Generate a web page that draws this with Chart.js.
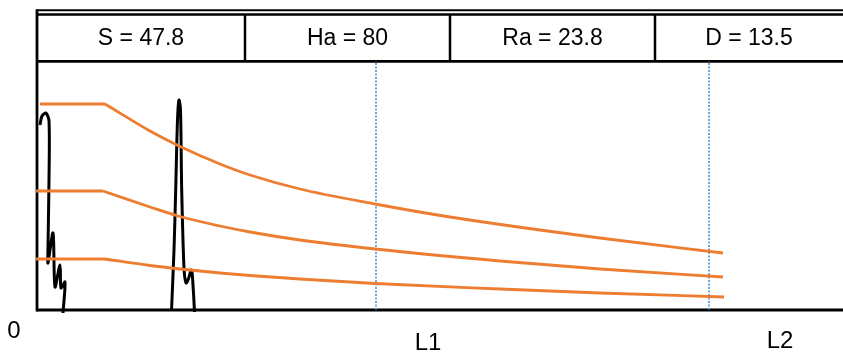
<!DOCTYPE html>
<html>
<head>
<meta charset="utf-8">
<script src="https://cdn.jsdelivr.net/npm/chart.js@4.4.1/dist/chart.umd.min.js"></script>
<style>
  html, body { margin: 0; padding: 0; background: #fff; }
  #box { width: 843px; height: 354px; }
</style>
</head>
<body>
<div id="box"><canvas id="grafico"></canvas></div>
<script>
// posição (x) e nível (y)
const cabecalho = ['S = 47.8', 'Ha = 80', 'Ra = 23.8', 'D = 13.5'];
const rotulosEixo = ['0', 'L1', 'L2'];
const posRotulos = [[-23, -21], [391, -33], [743, -31]];

const picoEsqX = [3, 5, 9, 12, 12, 11, 11, 16, 18, 23, 24, 28, 26];
const picoEsqY = [185, 194, 197, 189, 130, 63, 47, 77, 23, 45, 22, 28, -3];

const picoMeioX = [134.5, 137, 138.7, 140.5, 142, 143.5, 144.7, 147, 149, 151, 154.5, 156.3, 157.5];
const picoMeioY = [-1, 60, 120, 190, 210, 200, 120, 42, 27, 30, 40, 20, -2];

const planoX = [[3, 68], [-1, 66], [-1, 68]];
const planoY = [206, 119, 51];

const curvaX = [
  [68, 113, 142, 183, 213, 263, 338, 413, 563, 686],
  [66, 113, 141, 183, 213, 263, 338, 463, 563, 686],
  [68, 113, 143, 183, 213, 263, 338, 463, 563, 687]
];
const curvaY = [
  [206, 179, 164, 146, 135, 121, 106, 93, 72, 57],
  [119, 103, 94, 84, 78, 70, 61, 49, 41, 33],
  [51, 44.5, 41, 37, 34.5, 31, 26.5, 21, 17, 13]
];

const marcasX = [339, 672];
const topoMarcas = 249;

const laranja = '#ED7D31';

const pontos = (xs, ys) => xs.map((x, i) => ({ x, y: ys[i] }));

const datasets = [];
curvaX.forEach((xs, i) => {
  datasets.push({ data: pontos(planoX[i], [planoY[i], planoY[i]]), borderColor: laranja, borderWidth: 2.8, tension: 0 });
  datasets.push({ data: pontos(xs, curvaY[i]), borderColor: laranja, borderWidth: 2.8, cubicInterpolationMode: 'monotone' });
});
marcasX.forEach(x => {
  datasets.push({ data: pontos([x, x], [0, topoMarcas]), borderColor: '#2f7fd0', borderWidth: 1.4, borderDash: [2, 1.5] });
});
datasets.push({ data: pontos(picoEsqX, picoEsqY), borderColor: '#000', borderWidth: 3, tension: 0.3 });
datasets.push({ data: pontos(picoMeioX, picoMeioY), borderColor: '#000', borderWidth: 3, tension: 0.3 });

const moldura = {
  id: 'moldura',
  beforeDatasetsDraw(chart) {
    const { ctx, chartArea: a, scales: { x, y } } = chart;
    const yBase = y.getPixelForValue(topoMarcas);
    ctx.save();
    ctx.strokeStyle = '#000';
    ctx.lineCap = 'butt';
    const linha = (x1, y1, x2, y2, w) => {
      ctx.lineWidth = w;
      ctx.beginPath(); ctx.moveTo(x1, y1); ctx.lineTo(x2, y2); ctx.stroke();
    };
    // cabeçalho
    linha(a.left, a.top + 0.3, a.right, a.top + 0.3, 2);
    linha(a.left, a.top + 4.5, a.right, a.top + 4.5, 2.3);
    linha(a.left, yBase + 0.3, a.right, yBase + 0.3, 2.7);
    const larg = 205, primeira = 208;
    for (let i = 0; i < 3; i++) {
      const xd = a.left + primeira + i * larg;
      linha(xd, a.top + 4.5, xd, yBase, 2.5);
    }
    ctx.fillStyle = '#000';
    ctx.font = '23px "Liberation Sans", Arial, sans-serif';
    ctx.textAlign = 'center';
    ctx.textBaseline = 'middle';
    cabecalho.forEach((t, i) => {
      const x1 = i === 0 ? a.left : a.left + primeira + (i - 1) * larg;
      const x2 = Math.min(a.left + primeira + i * larg, a.right);
      ctx.fillText(t, (x1 + x2) / 2, (a.top + 4.5 + yBase) / 2 + 1);
    });
    // eixos
    linha(a.left, a.top - 0.7, a.left, a.bottom + 1.4, 2.8);
    linha(a.left, a.bottom, a.right, a.bottom, 2.8);
    ctx.font = '24px "Liberation Sans", Arial, sans-serif';
    rotulosEixo.forEach((t, i) => {
      ctx.fillText(t, x.getPixelForValue(posRotulos[i][0]), y.getPixelForValue(posRotulos[i][1]));
    });
    ctx.restore();
  }
};

new Chart(document.getElementById('grafico'), {
  type: 'line',
  data: { datasets },
  options: {
    responsive: true,
    maintainAspectRatio: false,
    animation: false,
    layout: { padding: { left: 37, top: 10, right: 0, bottom: 44 } },
    elements: { point: { radius: 0 }, line: { fill: false } },
    clip: false,
    plugins: { legend: { display: false }, tooltip: { enabled: false } },
    scales: {
      x: { type: 'linear', min: 0, max: 806, display: false },
      y: { type: 'linear', min: 0, max: 300, display: false }
    }
  },
  plugins: [moldura]
});
</script>
</body>
</html>
